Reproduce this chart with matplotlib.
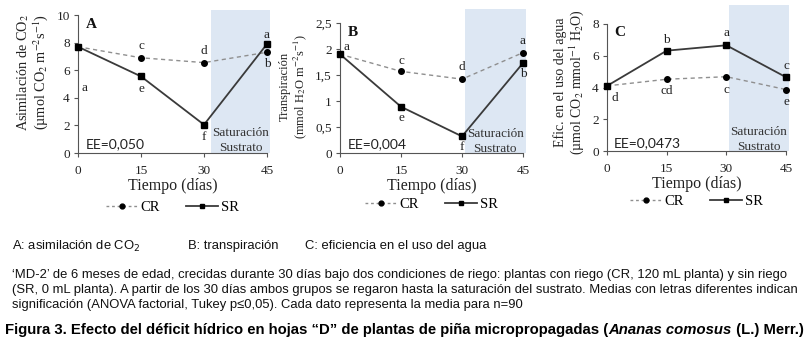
import matplotlib
matplotlib.use("Agg")
import matplotlib.pyplot as plt
from matplotlib.lines import Line2D
from matplotlib.patches import Rectangle

plt.rcParams['font.family'] = ['Liberation Serif', 'DejaVu Serif']
plt.rcParams['mathtext.fontset'] = 'stix'

# ---------------- data ----------------
dias = [0, 15, 30, 45]
xtick_labels = ['0', '15', '30', '45']

asim_cr = [7.7, 6.9, 6.55, 7.3]
asim_sr = [7.7, 5.55, 2.05, 7.9]
asim_let_cr = ['', 'c', 'd', 'b']
asim_let_sr = ['a', 'e', 'f', 'a']

trans_cr = [1.9, 1.57, 1.42, 1.93]
trans_sr = [1.9, 0.89, 0.32, 1.73]
trans_let_cr = ['', 'c', 'd', 'a']
trans_let_sr = ['a', 'e', 'f', 'b']

efic_cr = [4.1, 4.52, 4.68, 3.87]
efic_sr = [4.1, 6.32, 6.66, 4.65]
efic_let_cr = ['', 'cd', 'c', 'e']
efic_let_sr = ['d', 'b', 'a', 'c']

ee_vals = ['EE=0,050', 'EE=0,004', 'EE=0,0473']
panel_letters = ['A', 'B', 'C']
yticks_A = [0, 2, 4, 6, 8, 10]
yticks_B = [0, 0.5, 1, 1.5, 2, 2.5]
ytl_B = ['0', '0,5', '1', '1,5', '2', '2,5']
yticks_C = [0, 2, 4, 6, 8]

# ---------------- figure ----------------
W, H = 811, 351
fig = plt.figure(figsize=(W / 100, H / 100), dpi=100)

def fx(px):
    return px / W

def fy(py):
    return 1 - py / H

def make_ax(x0, x1, ytop, ybot):
    return fig.add_axes([fx(x0), fy(ybot), fx(x1) - fx(x0), (ybot - ytop) / H])

axA = make_ax(78, 267, 15, 153)
axB = make_ax(340, 523, 23, 153)
axC = make_ax(607, 786, 24, 151)

shade_col = '#dde7f3'
cr_col = '#8f8f8f'
sr_col = '#3a3a3a'

# letter offsets in pixels (dx, dy_down)
offA_cr = [None, (0, -12), (0, -12), (0, 12)]
offA_sr = [(6, 41), (0, 13), (0, 12), (0, -9)]
offB_cr = [None, (0, -10), (0, -12), (0, -12)]
offB_sr = [(7, -7), (0, 11), (0, 11), (0, 11)]
offC_cr = [None, (0, 12), (0, 13), (0, 12)]
offC_sr = [(8, 12), (0, -11), (0, -12), (0, -11)]

panels = [
    (axA, asim_cr, asim_sr, asim_let_cr, asim_let_sr, offA_cr, offA_sr, 10, yticks_A, [str(v) for v in yticks_A], 31.7, 10.36),
    (axB, trans_cr, trans_sr, trans_let_cr, trans_let_sr, offB_cr, offB_sr, 2.5, yticks_B, ytl_B, 30.7, 2.77),
    (axC, efic_cr, efic_sr, efic_let_cr, efic_let_sr, offC_cr, offC_sr, 8, yticks_C, [str(v) for v in yticks_C], 30.7, 9.2),
]

for i, (ax, cr, sr, lcr, lsr, ocr, osr, ymax, yt, ytl, shx, shtop) in enumerate(panels):
    ax.set_xlim(0, 45)
    ax.set_ylim(0, ymax)
    ax.add_patch(Rectangle((shx, 0), 45.7 - shx, shtop, facecolor=shade_col,
                           edgecolor='none', zorder=0, clip_on=False))
    ax.plot(dias, cr, color=cr_col, lw=1.0, ls=(0, (3, 2.5)), marker='o',
            ms=4, mfc='black', mec='black', zorder=3, clip_on=False)
    ax.plot(dias, sr, color=sr_col, lw=1.3, ls='-', marker='s',
            ms=4.5, mfc='black', mec='black', zorder=4, clip_on=False)
    for x, y, t, o in zip(dias, cr, lcr, ocr):
        if t:
            ax.annotate(t, (x, y), xytext=(o[0] * 0.72, -o[1] * 0.72), textcoords='offset points',
                        ha='center', va='center', fontsize=9.5, color='#222222')
    for x, y, t, o in zip(dias, sr, lsr, osr):
        if t:
            ax.annotate(t, (x, y), xytext=(o[0] * 0.72, -o[1] * 0.72), textcoords='offset points',
                        ha='center', va='center', fontsize=9.5, color='#222222')
    for s in ['top', 'right']:
        ax.spines[s].set_visible(False)
    for s in ['left', 'bottom']:
        ax.spines[s].set_color('#555555')
        ax.spines[s].set_linewidth(0.8)
    ax.set_facecolor('none')
    ax.set_xticks(dias)
    ax.set_xticklabels(xtick_labels)
    ax.set_yticks(yt)
    ax.set_yticklabels(ytl)
    ax.tick_params(axis='both', direction='out', length=3, width=0.8, color='#555555',
                   labelsize=9.5, labelcolor='#222222', pad=3)
    ax.tick_params(axis='x', pad=6)
    ax.set_xlabel('Tiempo (días)', fontsize=11.5, color='#222222', labelpad=0)
    ax.text(0.07, 0.93, panel_letters[i], transform=ax.transAxes, fontsize=11,
            fontweight='bold', ha='center', va='center', color='#111111')
    ax.text(0.04, 0.065, ee_vals[i], transform=ax.transAxes, fontsize=10,
            family='Lato', ha='left', va='center', color='#222222')
    ax.text((shx + 45.7) / 2, ymax * 0.09, 'Saturación\nSustrato',
            fontsize=9.5, ha='center', va='center', color='#333333',
            linespacing=1.3)
    handles = [Line2D([], [], color=cr_col, lw=1.0, ls=(0, (2, 2)), marker='o', ms=3.5,
                      mfc='black', mec='black'),
               Line2D([], [], color=sr_col, lw=1.3, ls='-', marker='s', ms=3.5,
                      mfc='black', mec='black')]
    ax.legend(handles, ['CR', 'SR'], loc='center', bbox_to_anchor=(0.5, -0.395),
              ncol=2, frameon=False, fontsize=10.5, handlelength=2.2,
              handletextpad=0.2, columnspacing=1.8)

# y labels
fig.text(fx(33), fy(72), 'Asimilación de CO$_2$\n(µmol CO$_2$ m$^{-2}$s$^{-1}$)',
         rotation=90, ha='center', va='center', fontsize=10.3, color='#222222',
         multialignment='center', linespacing=1.0)
fig.text(fx(294), fy(86), 'Transpiración\n(mmol H$_2$O m$^{-2}$s$^{-1}$)',
         rotation=90, ha='center', va='center', fontsize=9, color='#222222',
         multialignment='center', linespacing=1.0)
fig.text(fx(570), fy(82), 'Efic. en el uso del agua\n(µmol CO$_2$ mmol$^{-1}$ H$_2$O)',
         rotation=90, ha='center', va='center', fontsize=10, color='#222222',
         multialignment='center', linespacing=1.0)

# caption
cap_kw = dict(family='Liberation Sans', fontsize=9.4, color='#111111', va='center',
              math_fontfamily='dejavusans')
fig.text(fx(12), fy(246), 'A: asimilación de CO$_2$', **cap_kw)
fig.text(fx(188), fy(246), 'B: transpiración', **cap_kw)
fig.text(fx(305), fy(246), 'C: eficiencia en el uso del agua', **cap_kw)
fig.text(fx(12), fy(275), '‘MD-2’ de 6 meses de edad, crecidas durante 30 días bajo dos condiciones de riego: plantas con riego (CR, 120 mL planta) y sin riego', **cap_kw)
fig.text(fx(12), fy(290), '(SR, 0 mL planta). A partir de los 30 días ambos grupos se regaron hasta la saturación del sustrato. Medias con letras diferentes indican', **cap_kw)
fig.text(fx(12), fy(305), 'significación (ANOVA factorial, Tukey p≤0,05). Cada dato representa la media para n=90', **cap_kw)

tit_kw = dict(family='Liberation Sans', fontsize=10.75, color='#000000', fontweight='bold')
t1 = fig.text(fx(5), fy(334), 'Figura 3. Efecto del déficit hídrico en hojas “D” de plantas de piña micropropagadas (',
              va='baseline', **tit_kw)
t2 = fig.text(0, 0, 'Ananas comosus', va='baseline', style='italic', **tit_kw)
t3 = fig.text(0, 0, ' (L.) Merr.)', va='baseline', **tit_kw)

fig.canvas.draw()
r = fig.canvas.get_renderer()
bb1 = t1.get_window_extent(r)
t2.set_position((bb1.x1 / W, t1.get_position()[1]))
fig.canvas.draw()
bb2 = t2.get_window_extent(r)
t3.set_position((bb2.x1 / W, t1.get_position()[1]))

fig.savefig('out.png', dpi=100)
